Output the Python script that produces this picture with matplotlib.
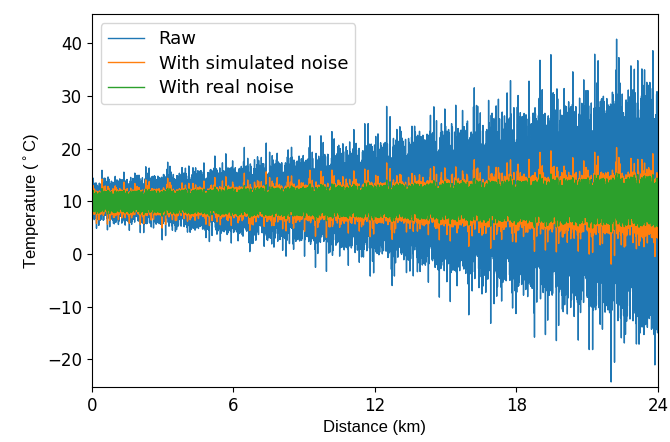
import numpy as np
import matplotlib
matplotlib.use("Agg")
import matplotlib.pyplot as plt

# envelope at each km mark (typical top / bottom of the band)
km = [0, 3, 6, 9, 12, 15, 18, 21, 24]
raw_hi = [13.5, 15.0, 16.5, 18.0, 21.0, 23.5, 26.0, 29.0, 33.0]
raw_lo = [6.5, 5.5, 4.0, 2.5, 0.0, -3.0, -6.0, -10.0, -15.0]
sim_hi = [12.0, 12.3, 12.7, 13.0, 13.5, 14.0, 14.5, 15.0, 16.0]
sim_lo = [7.5, 7.3, 7.0, 6.5, 6.0, 5.5, 5.0, 4.0, 3.0]
real_hi = [11.8, 12.0, 12.3, 12.6, 13.0, 13.4, 13.8, 14.2, 14.8]
real_lo = [8.0, 7.8, 7.5, 7.2, 6.9, 6.5, 6.1, 5.7, 5.2]

# fixed swing fractions and occasional spikes (typed, cycled along the trace)
swing = [0.62, 0.91, 0.47, 0.78, 1.0, 0.55, 0.83, 0.69, 0.95, 0.41,
         0.74, 0.88, 0.58, 0.99, 0.66, 0.8, 0.52, 0.93, 0.71, 0.6,
         0.86, 0.45, 0.97, 0.76, 0.64, 0.9, 0.5, 0.82, 0.7, 0.96,
         0.57, 0.79, 0.68, 0.92, 0.43, 0.85, 0.73, 0.98, 0.61, 0.77, 0.89]
spike = [1, 1, 1, 1.15, 1, 1, 1, 1, 1.3, 1, 1, 1.05, 1, 1, 1.45,
         1, 1, 1, 1.1, 1, 1, 1.25, 1, 1, 1, 1.6, 1, 1, 1.2]

dist = np.linspace(0, 24, 3000)


def trace(hi, lo, boost):
    top = np.interp(dist, km, hi)
    bot = np.interp(dist, km, lo)
    mid = (top + bot) / 2
    i = np.arange(len(dist))
    f = np.array(swing)[i % len(swing)]
    s = np.array(spike)[i % len(spike)]
    s = 1 + (s - 1) * boost
    up = i % 2 == 0
    return np.where(up, mid + f * s * (top - mid), mid - f * s * (mid - bot))


fig, ax = plt.subplots(figsize=(6.7, 4.42), dpi=100)
ax.plot(dist, trace(raw_hi, raw_lo, 1.0), color="#1f77b4", lw=1, label="Raw")
ax.plot(dist, trace(sim_hi, sim_lo, 1.6), color="#ff7f0e", lw=1, label="With simulated noise")
ax.plot(dist, trace(real_hi, real_lo, 0.5), color="#2ca02c", lw=1, label="With real noise")

ax.set_xlim(0, 24)
ax.set_ylim(-25.3, 45.5)
ax.set_xticks([0, 6, 12, 18, 24])
ax.set_yticks([-20, -10, 0, 10, 20, 30, 40])
ax.tick_params(labelsize=12)
ax.set_xlabel("Distance (km)", fontsize=12, family="Liberation Sans")
ax.set_ylabel("Temperature ($^\\circ$C)", fontsize=12, family="Liberation Sans")
ax.legend(loc="upper left", fontsize=13, labelspacing=0.35)

plt.subplots_adjust(left=0.137, right=0.982, top=0.968, bottom=0.124)
plt.savefig("out.png")
